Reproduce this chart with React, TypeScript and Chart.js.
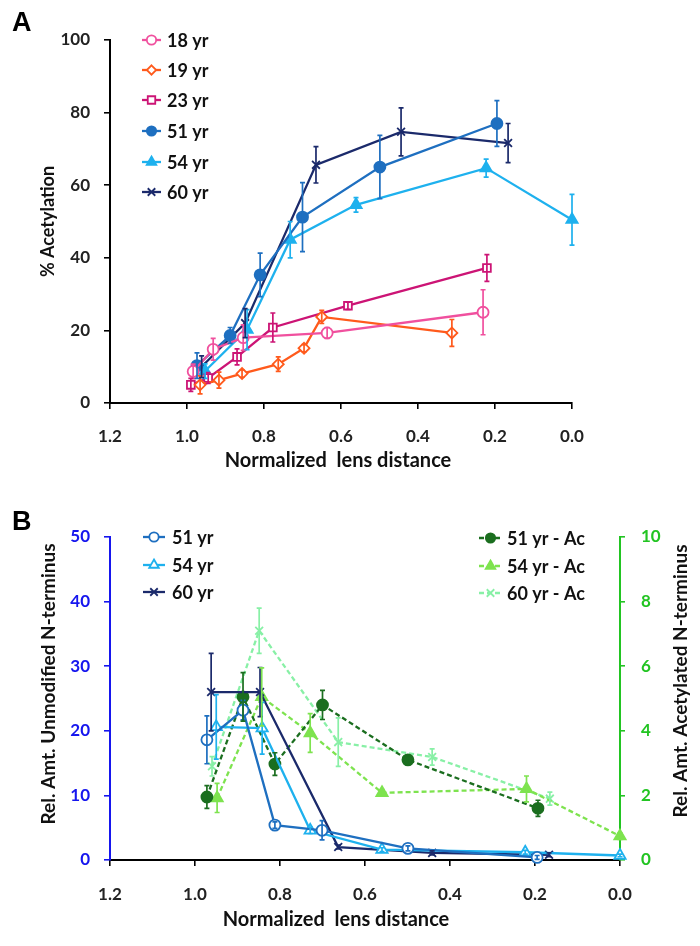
import React, { useEffect, useRef } from 'react';
import { Chart, registerables } from 'chart.js';
Chart.register(...registerables);

const FONT = 'Lato, "DejaVu Sans", sans-serif';

// ---------- Panel A : % Acetylation ----------
const xTickLabels = ['0.0', '0.2', '0.4', '0.6', '0.8', '1.0', '1.2'];

const a18x = [0.984, 0.932, 0.854, 0.636, 0.231];
const a18y = [8.7, 14.8, 18.0, 19.3, 25.0];
const a18e = [2.0, 3.0, 3.5, 1.5, 6.2];

const a19x = [0.966, 0.917, 0.857, 0.763, 0.696, 0.650, 0.312];
const a19y = [5.0, 6.3, 8.1, 10.7, 15.1, 23.7, 19.3];
const a19e = [2.5, 2.2, 1.0, 2.0, 1.0, 1.8, 3.7];

const a23x = [0.990, 0.945, 0.870, 0.777, 0.582, 0.221];
const a23y = [5.0, 6.9, 12.7, 20.8, 26.8, 37.2];
const a23e = [1.8, 1.5, 2.2, 4.0, 1.0, 3.7];

const a51x = [0.974, 0.888, 0.810, 0.700, 0.499, 0.195];
const a51y = [10.3, 18.6, 35.3, 51.2, 65.0, 77.0];
const a51e = [3.5, 2.2, 6.0, 9.5, 8.7, 6.3];

const a54x = [0.953, 0.844, 0.732, 0.561, 0.223, 0.0];
const a54y = [8.8, 20.2, 45.0, 54.6, 64.7, 50.5];
const a54e = [2.0, 5.5, 5.0, 2.0, 2.5, 7.0];

const a60x = [0.962, 0.849, 0.665, 0.444, 0.166];
const a60y = [10.0, 22.0, 65.6, 74.7, 71.6];
const a60e = [3.0, 4.0, 5.0, 6.6, 5.4];

// ---------- Panel B : unmodified (left axis) ----------
const b51x = [0.972, 0.887, 0.812, 0.701, 0.499, 0.195];
const b51y = [18.6, 23.2, 5.4, 4.6, 1.8, 0.4];
const b51e = [3.7, 1.5, 0.5, 1.5, 0.4, 0.3];

const b54x = [0.950, 0.842, 0.729, 0.560, 0.223, 0.0];
const b54y = [20.6, 20.4, 4.6, 1.6, 1.2, 0.7];
const b54e = [5.0, 4.0, 0.5, 0.3, 0.3, 0.2];

const b60x = [0.962, 0.847, 0.663, 0.442, 0.167];
const b60y = [26.0, 26.0, 2.0, 1.1, 0.8];
const b60e = [6.0, 3.8, 0.3, 0.3, 0.3];

// ---------- Panel B : acetylated (right axis) ----------
const c51x = [0.972, 0.887, 0.812, 0.700, 0.499, 0.193];
const c51y = [1.95, 5.05, 2.97, 4.8, 3.1, 1.6];
const c51e = [0.35, 0.75, 0.35, 0.45, 0.12, 0.25];

const c54x = [0.948, 0.843, 0.729, 0.560, 0.220, 0.0];
const c54y = [1.92, 5.05, 3.93, 2.08, 2.2, 0.74];
const c54e = [0.45, 0.9, 0.6, 0.1, 0.4, 0.1];

const c60x = [0.960, 0.849, 0.663, 0.442, 0.165];
const c60y = [2.9, 7.1, 3.65, 3.19, 1.9];
const c60e = [0.3, 0.7, 0.75, 0.25, 0.2];

const X_TITLE = 'Normalized  lens distance';

const pts = (xs: number[], ys: number[]) => xs.map((x, i) => ({ x, y: ys[i] }));

function drawMarker(ctx: CanvasRenderingContext2D, style: string, x: number, y: number, r: number, fill: string, stroke: string, lw: number) {
  ctx.save();
  ctx.lineWidth = lw;
  ctx.strokeStyle = stroke;
  ctx.fillStyle = fill;
  ctx.setLineDash([]);
  ctx.beginPath();
  if (style === 'circle') {
    ctx.arc(x, y, r, 0, Math.PI * 2);
    ctx.fill(); ctx.stroke();
  } else if (style === 'triangle') {
    ctx.moveTo(x, y - r);
    ctx.lineTo(x + r * 0.866, y + r * 0.5);
    ctx.lineTo(x - r * 0.866, y + r * 0.5);
    ctx.closePath();
    ctx.fill(); ctx.stroke();
  } else if (style === 'rect') {
    const s = r * 0.8;
    ctx.rect(x - s, y - s, 2 * s, 2 * s);
    ctx.fill(); ctx.stroke();
  } else if (style === 'rectRot') {
    ctx.moveTo(x, y - r); ctx.lineTo(x + r, y); ctx.lineTo(x, y + r); ctx.lineTo(x - r, y);
    ctx.closePath();
    ctx.fill(); ctx.stroke();
  } else if (style === 'crossRot') {
    const s = r * 0.8;
    ctx.moveTo(x - s, y - s); ctx.lineTo(x + s, y + s);
    ctx.moveTo(x + s, y - s); ctx.lineTo(x - s, y + s);
    ctx.stroke();
  }
  ctx.restore();
}

const errorBarPlugin = {
  id: 'errBars',
  afterDatasetsDraw(chart: any) {
    const ctx = chart.ctx;
    chart.data.datasets.forEach((ds: any) => {
      const errs: number[] = ds.errors;
      if (!errs) return;
      const xs = chart.scales.x;
      const ys = chart.scales[ds.yAxisID || 'y'];
      ctx.save();
      ctx.strokeStyle = ds.borderColor;
      ctx.lineWidth = 1.7;
      ctx.setLineDash([]);
      ds.data.forEach((p: any, j: number) => {
        const e = errs[j];
        if (!e) return;
        const px = xs.getPixelForValue(p.x);
        const y1 = ys.getPixelForValue(Math.max(0, p.y - e));
        const y2 = ys.getPixelForValue(p.y + e);
        ctx.beginPath();
        ctx.moveTo(px, y1); ctx.lineTo(px, y2);
        ctx.moveTo(px - 2.5, y1); ctx.lineTo(px + 2.5, y1);
        ctx.moveTo(px - 2.5, y2); ctx.lineTo(px + 2.5, y2);
        ctx.stroke();
      });
      ctx.restore();
    });
  },
};

type LegItem = { index: number; x0: number; x1: number; tx: number; y: number };
type TextItem = { text: string; x: number; y: number; rot: number; size: number };

function makeDecor(items: LegItem[], texts: TextItem[], panel: string, px: number, py: number) {
  return {
    id: 'decor' + panel,
    afterDraw(chart: any) {
      const ctx: CanvasRenderingContext2D = chart.ctx;
      items.forEach((it) => {
        const ds = chart.data.datasets[it.index];
        ctx.save();
        ctx.strokeStyle = ds.borderColor;
        ctx.lineWidth = ds.borderWidth;
        ctx.setLineDash(ds.borderDash || []);
        ctx.beginPath();
        ctx.moveTo(it.x0, it.y);
        ctx.lineTo(it.x1, it.y);
        ctx.stroke();
        drawMarker(ctx, ds.pointStyle, (it.x0 + it.x1) / 2, it.y, ds.pointRadius * 0.85, ds.pointBackgroundColor, ds.borderColor, ds.pointBorderWidth);
        ctx.fillStyle = '#111';
        ctx.font = `bold 18px ${FONT}`;
        ctx.textBaseline = 'middle';
        ctx.textAlign = 'left';
        ctx.fillText(ds.label, it.tx, it.y + 1);
        ctx.restore();
      });
      texts.forEach((t) => {
        ctx.save();
        ctx.translate(t.x, t.y);
        ctx.rotate(t.rot);
        ctx.fillStyle = '#111';
        ctx.font = `bold ${t.size}px ${FONT}`;
        ctx.textBaseline = 'middle';
        ctx.textAlign = 'center';
        ctx.fillText(t.text, 0, 0);
        ctx.restore();
      });
      ctx.save();
      ctx.fillStyle = '#000';
      ctx.font = 'bold 27px "Liberation Sans", Arial, sans-serif';
      ctx.textBaseline = 'alphabetic';
      ctx.textAlign = 'left';
      ctx.fillText(panel, px, py);
      ctx.restore();
    },
  };
}

function series(label: string, xs: number[], ys: number[], errs: number[], color: string, style: string, open: boolean, extra: any = {}) {
  return {
    label,
    data: pts(xs, ys),
    errors: errs,
    borderColor: color,
    backgroundColor: color,
    borderWidth: 2.3,
    pointStyle: style,
    pointRadius: style === 'triangle' ? 6.5 : 5.5,
    pointBorderWidth: 1.8,
    pointBackgroundColor: open ? '#ffffff' : color,
    pointBorderColor: color,
    tension: 0,
    fill: false,
    clip: false,
    ...extra,
  };
}

const tickFont = { family: FONT, size: 17, weight: 'bold' as const };
const yTitleFont = { family: FONT, size: 18, weight: 'bold' as const };

function xScale(height: number, pad: number) {
  return {
    type: 'linear',
    reverse: true,
    min: 0,
    max: 1.2,
    afterFit: (s: any) => { s.height = height; },
    ticks: {
      stepSize: 0.2,
      padding: pad,
      color: '#222',
      font: tickFont,
      maxRotation: 0,
      autoSkip: false,
      callback: (v: any) => xTickLabels.find((t) => Math.abs(parseFloat(t) - Number(v)) < 1e-6) ?? Number(v).toFixed(1),
    },
    grid: { drawOnChartArea: false, drawTicks: true, tickLength: 6, color: '#000', lineWidth: 1.6 },
    border: { display: true, color: '#000', width: 2 },
    title: { display: false, text: X_TITLE },
  };
}

function configA(): any {
  const ds = [
    series('18 yr', a18x, a18y, a18e, '#f0509e', 'circle', true),
    series('19 yr', a19x, a19y, a19e, '#ff5a1c', 'rectRot', true),
    series('23 yr', a23x, a23y, a23e, '#cc1475', 'rect', true),
    series('51 yr', a51x, a51y, a51e, '#1e6fc0', 'circle', false),
    series('54 yr', a54x, a54y, a54e, '#1eb1ee', 'triangle', false),
    series('60 yr', a60x, a60y, a60e, '#1b2a6b', 'crossRot', false),
  ];
  const legendYs = [40, 70, 100, 131, 162, 192];
  const items: LegItem[] = legendYs.map((y, i) => ({ index: i, x0: 142, x1: 161, tx: 167, y }));
  const texts: TextItem[] = [{ text: X_TITLE, x: 338, y: 461, rot: 0, size: 20 }];
  return {
    type: 'line',
    data: { datasets: ds },
    plugins: [errorBarPlugin, makeDecor(items, texts, 'A', 12, 31)],
    options: {
      animation: false,
      responsive: false,
      layout: { padding: { top: 40, right: 128, bottom: 0, left: 0 } },
      plugins: { legend: { display: false }, tooltip: { enabled: false } },
      scales: {
        x: xScale(67, 17),
        y: {
          min: 0,
          max: 100,
          afterFit: (s: any) => { s.width = 110; },
          ticks: { stepSize: 20, padding: 14, color: '#222', font: tickFont },
          grid: { drawOnChartArea: false, drawTicks: true, tickLength: 6, color: '#000', lineWidth: 1.6 },
          border: { display: true, color: '#000', width: 2 },
          title: { display: true, text: '% Acetylation', color: '#111', font: yTitleFont, padding: { top: 37, bottom: 0 } },
        },
      },
    },
  };
}

function configB(): any {
  const dash = { borderDash: [5, 3], yAxisID: 'y2' };
  const ds = [
    series('51 yr', b51x, b51y, b51e, '#1e6fc0', 'circle', true),
    series('54 yr', b54x, b54y, b54e, '#1eb1ee', 'triangle', true),
    series('60 yr', b60x, b60y, b60e, '#1b2a6b', 'crossRot', false),
    series('51 yr - Ac', c51x, c51y, c51e, '#1b6e1f', 'circle', false, dash),
    series('54 yr - Ac', c54x, c54y, c54e, '#7ee34f', 'triangle', false, dash),
    series('60 yr - Ac', c60x, c60y, c60e, '#88f0a6', 'crossRot', false, dash),
  ];
  const items: LegItem[] = [
    { index: 0, x0: 143, x1: 165, tx: 172, y: 67 },
    { index: 1, x0: 143, x1: 165, tx: 172, y: 95 },
    { index: 2, x0: 143, x1: 165, tx: 172, y: 122 },
    { index: 3, x0: 479, x1: 502, tx: 507, y: 68 },
    { index: 4, x0: 479, x1: 502, tx: 507, y: 96 },
    { index: 5, x0: 479, x1: 502, tx: 507, y: 123 },
  ];
  const texts: TextItem[] = [
    { text: X_TITLE, x: 336, y: 450, rot: 0, size: 20 },
    { text: 'Rel. Amt. Unmodified N-terminus', x: 49, y: 214, rot: -Math.PI / 2, size: 19 },
    { text: 'Rel. Amt. Acetylated N-terminus', x: 681, y: 211, rot: -Math.PI / 2, size: 19 },
  ];
  const blue = '#1616ee';
  const green = '#22c422';
  return {
    type: 'line',
    data: { datasets: ds },
    plugins: [errorBarPlugin, makeDecor(items, texts, 'B', 12, 60)],
    options: {
      animation: false,
      responsive: false,
      layout: { padding: { top: 67, right: 0, bottom: 0, left: 0 } },
      plugins: { legend: { display: false }, tooltip: { enabled: false } },
      scales: {
        x: xScale(86, 18),
        y: {
          position: 'left',
          min: 0,
          max: 50,
          afterFit: (s: any) => { s.width = 110; },
          ticks: { stepSize: 10, padding: 14, color: blue, font: tickFont },
          grid: { drawOnChartArea: false, drawTicks: true, tickLength: 6, color: blue, lineWidth: 1.6 },
          border: { display: true, color: blue, width: 2 },
          title: { display: false, text: 'Rel. Amt. Unmodified N-terminus' },
        },
        y2: {
          position: 'right',
          min: 0,
          max: 10,
          afterFit: (s: any) => { s.width = 80; },
          ticks: { stepSize: 2, padding: 16, color: green, font: tickFont },
          grid: { drawOnChartArea: false, drawTicks: true, tickLength: 5, color: green, lineWidth: 1.6 },
          border: { display: true, color: green, width: 2 },
          title: { display: false, text: 'Rel. Amt. Acetylated N-terminus' },
        },
      },
    },
  };
}

export default function App() {
  const refA = useRef<HTMLCanvasElement>(null);
  const refB = useRef<HTMLCanvasElement>(null);
  useEffect(() => {
    document.body.style.margin = '0';
    const a = new Chart(refA.current as HTMLCanvasElement, configA());
    const b = new Chart(refB.current as HTMLCanvasElement, configB());
    return () => {
      a.destroy();
      b.destroy();
    };
  }, []);
  return (
    <div style={{ width: 700, height: 946, background: '#ffffff' }}>
      <canvas ref={refA} width={700} height={470} style={{ display: 'block' }} />
      <canvas ref={refB} width={700} height={476} style={{ display: 'block' }} />
    </div>
  );
}
